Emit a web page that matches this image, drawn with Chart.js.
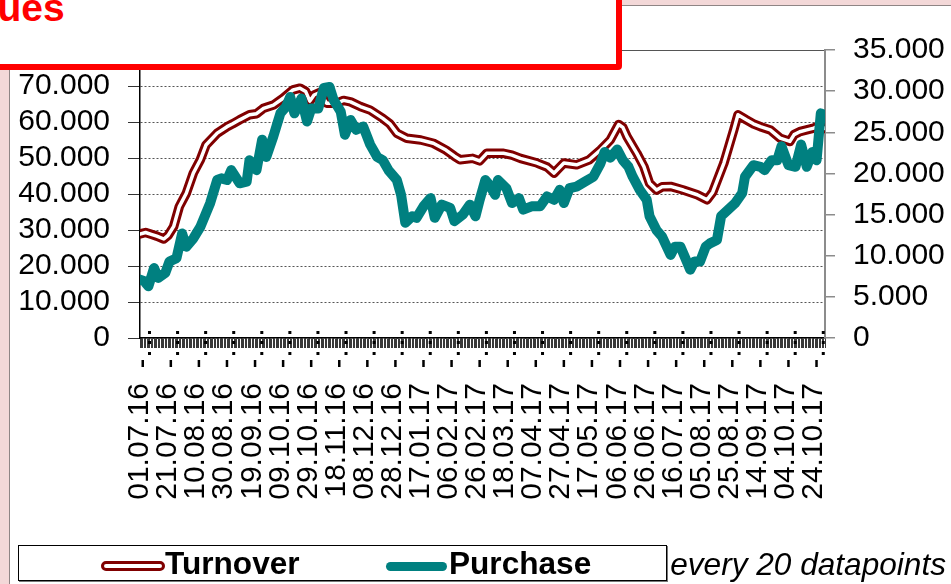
<!DOCTYPE html>
<html>
<head>
<meta charset="utf-8">
<script src="https://cdn.jsdelivr.net/npm/chart.js@4/dist/chart.umd.min.js"></script>
<style>
  html, body { margin: 0; padding: 0; }
  #wrap { position: relative; width: 951px; height: 584px; overflow: hidden; background: #f3d8d8; font-family: "Liberation Sans", Arial, sans-serif; }
  #inner { position: absolute; left: 9px; top: 5px; width: 960px; height: 600px; background: #fff; border-left: 1px solid #8f8585; border-top: 1px solid #8f8585; }
  #c { position: absolute; left: 0; top: 0; }
  #titlebox { position: absolute; left: -10px; top: -20px; width: 620px; height: 78px; border: 6px solid #ff0000; border-radius: 4px; background: #fff; }
  #title { position: absolute; left: -59px; top: -12px; font: bold 39px/1 "Liberation Sans", Arial, sans-serif; color: #ff0000; white-space: nowrap; }
  #note { position: absolute; right: 5px; top: 549px; font: italic 31.6px/1 "Liberation Sans", Arial, sans-serif; color: #000; white-space: nowrap; }
  #legend { position: absolute; left: 18px; top: 545px; width: 647px; height: 34px; border: 1px solid #000; background: #fff; box-shadow: 1px 1px 0 #777; }
  .lt { position: absolute; top: 2px; font: bold 31.6px/1 "Liberation Sans", Arial, sans-serif; color: #000; white-space: nowrap; }
  #symT { position: absolute; left: 82px; top: 15px; width: 58px; height: 4px; border: 3px solid #800000; border-radius: 6px; background: #fff; }
  #symP { position: absolute; left: 367px; top: 16px; width: 61px; height: 9px; border-radius: 5px; background: #008080; }
</style>
</head>
<body>
<div id="wrap">
  <div id="inner"></div>
  <canvas id="c" width="951" height="584"></canvas>
  <div id="titlebox"></div>
  <div id="title">Values</div>
  <div id="note">Labeling every 20 datapoints</div>
  <div id="legend">
    <div id="symT"></div><div class="lt" style="left:146px">Turnover</div>
    <div id="symP"></div><div class="lt" style="left:430px">Purchase</div>
  </div>
</div>
<script>
// ---- data (day index from 01.07.16, value) ----
const tickLabels = ["01.07.16","21.07.16","10.08.16","30.08.16","19.09.16","09.10.16","29.10.16","18.11.16","08.12.16","28.12.16","17.01.17","06.02.17","26.02.17","18.03.17","07.04.17","27.04.17","17.05.17","06.06.17","26.06.17","16.07.17","05.08.17","25.08.17","14.09.17","04.10.17","24.10.17"];

const turnoverDays = [0,4,8,12,17,20,24,28,33,38,43,47,55,62,66,71,78,83,88,95,102,109,114,118,121,124,128,133,140,145,150,157,164,173,178,183,190,200,209,218,224,228,237,242,247,259,265,271,283,290,295,298,302,311,320,328,335,341,344,347,354,359,363,368,372,378,387,397,404,408,416,423,426,432,437,442,449,456,463,466,470,475,480,484,488];
const turnoverValues = [28900,29300,28800,28300,27500,28500,31000,36500,40200,45800,49500,53600,56900,58700,59500,60600,62000,62300,63800,64700,66600,68900,69400,68500,65800,67500,68200,65200,65200,66000,65600,64300,63300,61000,59500,56900,55500,55000,54100,52200,50500,49500,49900,49200,51300,51300,50800,49900,48600,47500,45800,47000,48600,48100,49500,52200,55000,59300,58500,55900,51300,47600,43000,41100,42000,42100,41100,39800,38400,40500,48600,57800,62000,60600,59500,58700,57800,55500,54600,56500,57300,57800,58300,59000,58200];

const purchaseDays = [0,3,6,10,13,18,21,26,30,33,38,43,50,55,58,62,65,71,76,78,83,87,90,95,100,104,107,110,115,119,122,127,131,135,138,143,146,150,154,159,164,169,173,177,183,186,189,194,197,202,207,210,215,221,224,230,235,239,242,246,249,253,255,261,265,270,273,279,285,290,295,299,302,306,311,317,323,328,331,335,340,344,348,351,356,361,363,368,372,378,381,385,388,392,395,399,403,406,411,414,419,424,429,431,437,442,445,450,454,457,462,467,471,475,479,482,485,488];
const purchaseValues = [7100,6900,6300,8500,7300,7900,9300,9700,12700,11100,12100,13500,16400,19200,19400,19200,20400,18800,19000,21600,20400,24100,22000,24500,27300,28100,29300,27300,29100,26300,27900,27900,30400,30500,28900,27500,24700,26500,25300,25700,23500,22000,21600,20400,19200,17400,14000,14800,14600,16000,17000,14600,16200,15800,14200,15000,16200,14800,16800,19200,18600,17400,19200,18200,16400,17000,15600,16000,16000,17200,16800,18000,16400,18200,18400,19000,19600,21200,22600,21900,22900,21600,20800,19600,18000,16800,14800,13100,12300,10100,11100,11100,9900,8300,9300,9300,11100,11500,11900,14800,15600,16400,17600,19600,21000,20800,20400,21600,21600,23300,21000,20800,23500,20800,22600,21600,27300,27100];

const turnoverPts = turnoverDays.map((d, i) => ({x: d, y: turnoverValues[i]}));
const purchasePts = purchaseDays.map((d, i) => ({x: d, y: purchaseValues[i]}));

const FONT = '"Liberation Sans", Arial, sans-serif';
Chart.defaults.color = '#000';
Chart.defaults.font.family = FONT;

const fmt = v => v === 0 ? '0' : (v / 1000) + '.000';

const markPlugin = {
  id: 'marks',
  afterDraw(chart) {
    const xs = chart.scales.x;
    const ctx = chart.ctx;
    ctx.save();
    ctx.fillStyle = '#000';
    for (let k = 0; k < tickLabels.length; k++) {
      const px = xs.getPixelForValue(k * 20);
      ctx.fillRect(px + 8, 331, 3, 3);
      ctx.fillRect(px + 8, 341, 3, 3);
      ctx.fillRect(px + 8, 352, 3, 3);
      ctx.fillRect(px + 1.5, 360, 2.5, 7);
    }
    ctx.restore();
  }
};

new Chart(document.getElementById('c'), {
  type: 'line',
  data: {
    datasets: [
      { label: 'Purchase', data: purchasePts, yAxisID: 'y2', borderColor: '#008080', borderWidth: 10,
        pointRadius: 0, tension: 0, borderJoinStyle: 'round', borderCapStyle: 'round', order: 0 },
      { label: 'Turnover', data: turnoverPts, yAxisID: 'y', borderColor: '#ffffff', borderWidth: 3.5,
        pointRadius: 0, tension: 0, borderJoinStyle: 'round', borderCapStyle: 'round', order: 1 },
      { label: 'Turnover', data: turnoverPts, yAxisID: 'y', borderColor: '#800000', borderWidth: 9.5,
        pointRadius: 0, tension: 0, borderJoinStyle: 'round', borderCapStyle: 'round', order: 2 }
    ]
  },
  options: {
    responsive: false,
    animation: false,
    events: [],
    layout: { padding: { top: 50, left: 0, right: 0, bottom: 0 } },
    plugins: { legend: { display: false }, tooltip: { enabled: false } },
    scales: {
      x: {
        type: 'linear', min: 0, max: 488,
        afterFit(s) { s.height = 246; },
        grid: { drawOnChartArea: false, drawTicks: true, tickLength: 10, tickColor: '#3a3a3a', lineWidth: 1 },
        border: { color: '#000', width: 1.5 },
        ticks: {
          stepSize: 1, autoSkip: false, maxRotation: 90, minRotation: 90, padding: 35,
          font: { size: 30, family: FONT },
          callback: v => (v % 20 === 0 && tickLabels[v / 20] !== undefined) ? tickLabels[v / 20] : ''
        }
      },
      y: {
        position: 'left', min: 0, max: 80000,
        afterFit(s) { s.width = 140; },
        grid: { color: '#555', lineWidth: 1, tickLength: 12, tickColor: '#333' },
        border: { color: '#000', width: 1.5, dash: c => (c.tick && c.tick.value === 80000) ? [] : [2, 2] },
        ticks: { stepSize: 10000, autoSkip: false, padding: 18, font: { size: 30, family: FONT }, callback: fmt }
      },
      y2: {
        position: 'right', min: 0, max: 35000,
        afterFit(s) { s.width = 126; },
        grid: { drawOnChartArea: false, tickLength: 10, tickColor: '#8c8c8c', lineWidth: 1.5 },
        border: { color: '#8c8c8c', width: 2 },
        ticks: { stepSize: 5000, autoSkip: false, padding: 18, font: { size: 30, family: FONT }, callback: fmt }
      }
    }
  },
  plugins: [markPlugin]
});
</script>
</body>
</html>
